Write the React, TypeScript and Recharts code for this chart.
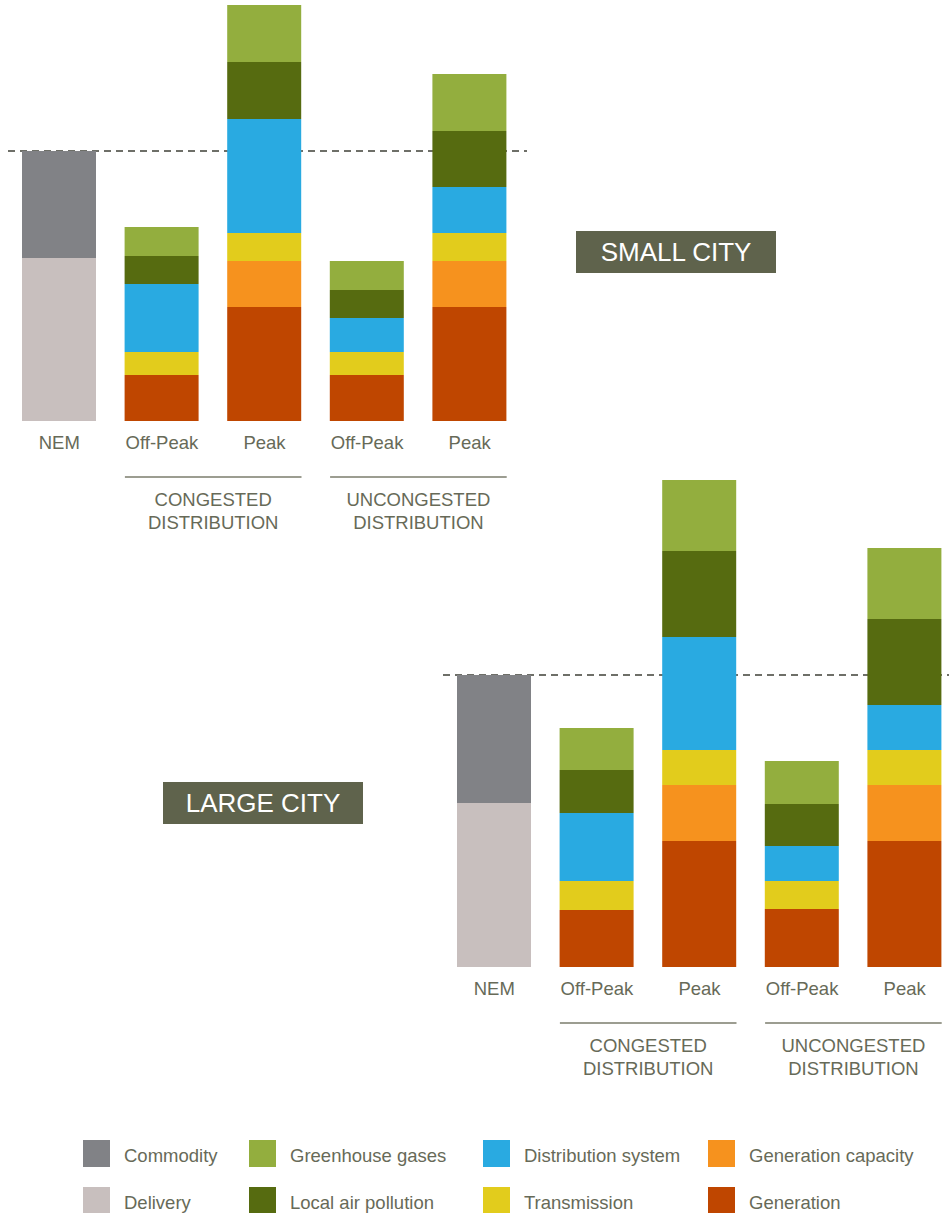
import React from "react";
import { BarChart, Bar, XAxis, YAxis, ReferenceLine } from "recharts";

const FONT = '"Liberation Sans", Arial, Helvetica, sans-serif';
const TEXT = "#676a58";
const FS = 18.5;

// categories and group labels (shared by both charts)
const categories = ["NEM", "Off-Peak", "Peak", "Off-Peak", "Peak"];
const groupLabels = ["", "CONGESTED|DISTRIBUTION", "", "UNCONGESTED|DISTRIBUTION", ""];

// series keys, names, colors (stack order bottom -> top)
const seriesKeys = ["delivery", "commodity", "generation", "genCap", "transmission", "distribution", "local", "ghg"];
const seriesNames = ["Delivery", "Commodity", "Generation", "Generation capacity", "Transmission", "Distribution system", "Local air pollution", "Greenhouse gases"];
const seriesColors = ["#c8bfbe", "#818286", "#bf4600", "#f6921e", "#e2cc1c", "#29aae1", "#566b10", "#93ae3e"];

// SMALL CITY values (relative value units)
const smallDelivery = [16.3, null, null, null, null];
const smallCommodity = [10.7, null, null, null, null];
const smallGeneration = [null, 4.6, 11.4, 4.6, 11.4];
const smallGenCap = [null, null, 4.6, null, 4.6];
const smallTransmission = [null, 2.3, 2.8, 2.3, 2.8];
const smallDistribution = [null, 6.8, 11.4, 3.4, 4.6];
const smallLocal = [null, 2.8, 5.7, 2.8, 5.6];
const smallGhg = [null, 2.9, 5.7, 2.9, 5.7];

// LARGE CITY values
const largeDelivery = [16.4, null, null, null, null];
const largeCommodity = [12.8, null, null, null, null];
const largeGeneration = [null, 5.7, 12.6, 5.8, 12.6];
const largeGenCap = [null, null, 5.6, null, 5.6];
const largeTransmission = [null, 2.9, 3.5, 2.8, 3.5];
const largeDistribution = [null, 6.8, 11.3, 3.5, 4.5];
const largeLocal = [null, 4.3, 8.6, 4.2, 8.6];
const largeGhg = [null, 4.2, 7.1, 4.3, 7.1];

// legend layout (keys)
const legendRow1 = ["commodity", "ghg", "distribution", "genCap"];
const legendRow2 = ["delivery", "local", "transmission", "generation"];

function buildRows(cols: (number | null)[][]) {
  return categories.map((c, i) => {
    const row: any = { label: c, idx: i };
    seriesKeys.forEach((k, s) => {
      const v = cols[s][i];
      if (v != null) row[k] = v;
    });
    return row;
  });
}

const smallData = buildRows([smallDelivery, smallCommodity, smallGeneration, smallGenCap, smallTransmission, smallDistribution, smallLocal, smallGhg]);
const largeData = buildRows([largeDelivery, largeCommodity, largeGeneration, largeGenCap, largeTransmission, largeDistribution, largeLocal, largeGhg]);

const smallNem = (smallDelivery[0] as number) + (smallCommodity[0] as number);
const largeNem = (largeDelivery[0] as number) + (largeCommodity[0] as number);

const BAND = 102.6;
const BAR = 74;

const Tick = (props: any) => {
  const { x, y, payload } = props;
  const index = props.index ?? payload?.index ?? 0;
  const grp = groupLabels[index];
  const lines = grp ? grp.split("|") : [];
  return (
    <g>
      <text x={x} y={y + 28} textAnchor="middle" fontSize={FS} fill={TEXT} fontFamily={FONT}>
        {payload.value}
      </text>
      {grp ? (
        <g>
          <line x1={x - BAR / 2} x2={x + BAND + BAR / 2} y1={y + 56} y2={y + 56} stroke="#7b7d6c" strokeWidth={1.6} />
          <text x={x + BAND / 2} y={y + 85} textAnchor="middle" fontSize={FS} fill={TEXT} fontFamily={FONT}>
            {lines[0]}
          </text>
          <text x={x + BAND / 2} y={y + 108} textAnchor="middle" fontSize={FS} fill={TEXT} fontFamily={FONT}>
            {lines[1]}
          </text>
        </g>
      ) : null}
    </g>
  );
};

function StackChart({ data, nem, width, height, domainMax, marginLeft, padRight }: any) {
  const margin = { top: 0, right: 0, left: marginLeft, bottom: 0 };
  return (
    <div style={{ position: "relative", width, height }}>
      {/* background layer: dashed NEM reference line, drawn behind the bars */}
      <div style={{ position: "absolute", left: 0, top: 0 }}>
        <BarChart width={width} height={height} data={data} margin={margin} barSize={BAR}>
          <XAxis dataKey="label" interval={0} axisLine={false} tickLine={false} tick={false} height={120} padding={{ left: 0, right: padRight }} />
          <YAxis hide domain={[0, domainMax]} />
          <ReferenceLine y={nem} stroke="#6e6f68" strokeWidth={2} strokeDasharray="7 5" />
          <Bar dataKey="delivery" fill="none" isAnimationActive={false} />
        </BarChart>
      </div>
      {/* foreground layer: stacked bars and axis labels */}
      <div style={{ position: "absolute", left: 0, top: 0 }}>
        <BarChart width={width} height={height} data={data} margin={margin} barSize={BAR}>
          <XAxis
            dataKey="label"
            interval={0}
            axisLine={false}
            tickLine={false}
            tickSize={0}
            tickMargin={0}
            height={120}
            padding={{ left: 0, right: padRight }}
            tick={<Tick />}
          />
          <YAxis hide domain={[0, domainMax]} />
          {seriesKeys.map((k, i) => (
            <Bar key={k} dataKey={k} name={seriesNames[i]} stackId="a" fill={seriesColors[i]} isAnimationActive={false} />
          ))}
        </BarChart>
      </div>
    </div>
  );
}

const CityBox = ({ text, left, top }: any) => (
  <div
    style={{
      position: "absolute",
      left,
      top,
      width: 200,
      height: 42,
      background: "#5f634c",
      color: "#ffffff",
      fontFamily: FONT,
      fontSize: 26,
      lineHeight: "42px",
      textAlign: "center",
    }}
  >
    {text}
  </div>
);

const legendX = [83, 249, 483, 708];

const LegendRow = ({ keys, top }: any) => (
  <>
    {keys.map((k: string, i: number) => {
      const s = seriesKeys.indexOf(k);
      return (
        <div key={k} style={{ position: "absolute", left: legendX[i], top, height: 27, display: "flex", alignItems: "center" }}>
          <div style={{ width: 27, height: 27, background: seriesColors[s] }} />
          <span style={{ marginLeft: 14, paddingTop: 4, fontFamily: FONT, fontSize: FS, color: TEXT, whiteSpace: "nowrap" }}>{seriesNames[s]}</span>
        </div>
      );
    })}
  </>
);

export default function App() {
  return (
    <div style={{ position: "absolute", left: 0, top: 0, width: 949, height: 1213, overflow: "hidden", background: "#fff" }}>
      <div style={{ position: "absolute", left: 0, top: 1 }}>
        <StackChart data={smallData} nem={smallNem} width={527} height={540} domainMax={42} marginLeft={8} padRight={6} />
      </div>
      <div style={{ position: "absolute", left: 0, top: 467 }}>
        <StackChart data={largeData} nem={largeNem} width={956} height={620} domainMax={50} marginLeft={443} padRight={0} />
      </div>
      <CityBox text="SMALL CITY" left={576} top={231} />
      <CityBox text="LARGE CITY" left={163} top={782} />
      <LegendRow keys={legendRow1} top={1140} />
      <LegendRow keys={legendRow2} top={1187} />
    </div>
  );
}
